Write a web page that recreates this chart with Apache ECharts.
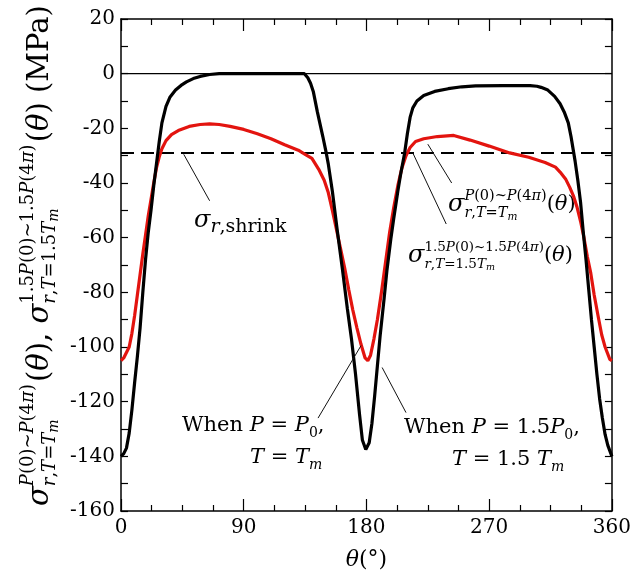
<!DOCTYPE html>
<html>
<head>
<meta charset="utf-8">
<script src="https://cdn.jsdelivr.net/npm/echarts@6/dist/echarts.min.js"></script>
<style>
  html, body { margin: 0; padding: 0; background: #fff; }
  #chart { width: 634px; height: 576px; }
</style>
</head>
<body>
<div id="chart"></div>
<script>
// P = 1.5P0, T = 1.5Tm (black curve)
const thetaHigh = [0, 2, 4, 6, 8, 10, 12, 14, 16, 18, 20, 22, 24, 26, 28, 30, 33, 36, 40, 44, 48, 53, 58, 65, 72, 90, 110, 130, 134.5,
  137, 139, 141, 144, 148, 150.5, 152, 155, 158.5, 162.5, 166, 169, 172, 175, 177, 179.5, 182, 184, 186, 188, 190, 193, 195,
  198, 200, 203, 205, 208, 210, 212, 214, 217, 222, 230, 240, 250, 260, 280, 300, 305, 308, 313, 318, 322, 325, 328, 330,
  333, 335, 337, 339, 341, 343, 345, 347, 349, 351, 353, 355, 357, 360];
const sigmaHigh = [-140, -139, -137, -131.5, -123, -113, -103.5, -93, -80, -68, -58, -50, -41, -33, -25, -18, -12, -8.5, -6, -4.3, -3, -1.8, -1, -0.3, 0, 0, 0, 0, 0,
  -1.5, -3.5, -6.5, -14, -23, -29, -33, -43, -57, -72, -86, -97, -110, -125, -134, -137.5, -135, -128, -118, -107, -96, -82, -72,
  -60, -53, -43, -37, -29, -22, -16, -12.5, -10, -8, -6.5, -5.5, -4.8, -4.5, -4.4, -4.4, -4.6, -5, -6, -8.3, -11, -14, -18, -23,
  -32, -39, -47, -58, -68, -79, -90, -100, -110, -119, -126, -132, -136, -140];

// P = P0, T = Tm (red curve)
const thetaLow = [0, 2, 4, 6, 8, 10, 12, 14, 16, 18, 20, 22, 24, 26, 28, 30, 33, 37, 42, 50, 58, 65, 72, 80, 90, 100, 110, 120, 130,
  135, 140, 145, 149, 152, 155, 158, 161, 164, 167, 170, 173, 176, 179, 181, 183, 185.5, 188, 191, 194, 197, 200, 203, 206,
  209, 212, 216, 222, 232, 244, 256, 270, 285, 299, 311, 318.6, 322, 326, 329, 332, 334.5, 337, 339.5, 342, 344.5, 347, 350,
  352.5, 355, 358.5, 360];
const sigmaLow = [-105, -104, -102, -100, -95, -88.5, -81, -73.5, -66, -59, -52, -46, -40, -34.5, -30.5, -27.5, -24.5, -22.3, -20.8, -19.3, -18.6, -18.4, -18.6, -19.3, -20.4, -22, -23.8, -26, -28,
  -29.5, -31, -35, -39, -43.5, -50, -57, -64, -71, -79, -86.5, -93, -99, -104, -105, -103, -97, -90, -80, -69, -58, -49, -41, -34.5,
  -30, -27, -24.8, -23.8, -23, -22.6, -24.3, -26.5, -29, -30.6, -32.5, -34.2, -36, -38.5, -41.5, -45, -49, -54, -60, -67, -73, -81, -89,
  -95.5, -100, -104.5, -105];

const shrinkStress = -29;   // sigma_r,shrink (dashed)
const zeroStress = 0;

// annotation leader lines, in (theta, sigma)
const leaders = [
  [[46, -29.5], [65, -46.5]],
  [[225, -25.8], [242.5, -40]],
  [[214, -29], [238.5, -55]],
  [[176, -99.5], [144.5, -126]],
  [[191.5, -107.5], [209, -124]]
];

const zip = (xs, ys) => xs.map((x, k) => [x, ys[k]]);

const FONT = '"DejaVu Serif"';
const ctx = document.createElement('canvas').getContext('2d');
function fontOf(r) { return (r.i ? 'italic ' : '') + r.s + 'px ' + FONT; }
function widthOf(r) { ctx.font = fontOf(r); return ctx.measureText(r.t).width; }
const it = (t, s, dy) => ({ t: t, s: s, dy: dy || 0, i: true });
const n = (t, s, dy) => ({ t: t, s: s, dy: dy || 0, i: false });

function placeRuns(runs, x, out) {
  runs.forEach(r => {
    out.push({
      type: 'text', x: x, y: r.dy,
      style: {
        text: r.t, font: fontOf(r), fill: '#000',
        textAlign: 'left', textVerticalAlign: 'middle', align: 'left', verticalAlign: 'middle'
      }
    });
    x += widthOf(r);
  });
  return x;
}
function mathGroup(x, y, items, rotation) {
  const children = [];
  let cx = 0;
  items.forEach(item => {
    if (item.sup || item.sub) {
      const a = placeRuns(item.sup || [], cx, children);
      const b = placeRuns(item.sub || [], cx, children);
      cx = Math.max(a, b) + (item.gap || 0);
    } else {
      cx = placeRuns([item], cx, children);
    }
  });
  return { type: 'group', x: x, y: y, rotation: rotation || 0, silent: true, children: children };
}

// superscript / subscript pieces
function supP(s, dy, k) {
  const pre = k ? [n(k, s, dy)] : [];
  return [].concat(pre, [it('P', s, dy), n('(0)~', s, dy)], k ? [n(k, s, dy)] : [], [it('P', s, dy), n('(4', s, dy), it('π', s, dy), n(')', s, dy)]);
}
function subRT(s, dy, k) {
  return [it('r', s, dy), n(',', s, dy), it('T', s, dy), n('=' + (k || ''), s, dy), it('T', s, dy), it('m', s - 4, dy + 4)];
}

const M = 29, S = 18;
const yTitle = mathGroup(40, 506, [
  it('σ', M), { sup: supP(S, -12), sub: subRT(S, 10), gap: 2 }, n('(', M), it('θ', M), n('), ', M),
  it('σ', M), { sup: supP(S, -12, '1.5'), sub: subRT(S, 10, '1.5'), gap: 2 }, n('(', M), it('θ', M), n(') (MPa)', M)
], Math.PI / 2);

const labShrink = mathGroup(194, 221, [it('σ', 24), { sub: [it('r', 19, 6), n(',shrink', 19, 6)] }]);
const labLow = mathGroup(448, 205, [it('σ', 24), { sup: supP(14.5, -9), sub: subRT(14.5, 8) }, n('(', 21), it('θ', 21), n(')', 21)]);
const labHigh = mathGroup(408, 256, [it('σ', 24), { sup: supP(13.5, -9, '1.5'), sub: subRT(13.5, 8, '1.5') }, n('(', 21), it('θ', 21), n(')', 21)]);
const whenLow1 = mathGroup(182, 426, [n('When ', 21), it('P', 21), n(' = ', 21), it('P', 21), { sub: [n('0', 14, 7)] }, n(',', 21)]);
const whenLow2 = mathGroup(250, 458, [it('T', 21), n(' = ', 21), it('T', 21), { sub: [it('m', 14, 7)] }]);
const whenHigh1 = mathGroup(404, 428, [n('When ', 21), it('P', 21), n(' = 1.5', 21), it('P', 21), { sub: [n('0', 14, 7)] }, n(',', 21)]);
const whenHigh2 = mathGroup(452, 460, [it('T', 21), n(' = 1.5 ', 21), it('T', 21), { sub: [it('m', 14, 7)] }]);

const tickStyle = { color: '#000', width: 1.2 };
const axisCommon = {
  type: 'value',
  axisLine: { show: true, onZero: false, lineStyle: { color: '#000', width: 1.5 } },
  splitLine: { show: false },
  axisLabel: { color: '#000', fontFamily: FONT, fontSize: 20 }
};

const chart = echarts.init(document.getElementById('chart'));
chart.setOption({
  animation: false,
  backgroundColor: '#fff',
  grid: { left: 121, right: 17, top: 19, bottom: 61 },
  xAxis: [
    Object.assign({}, axisCommon, {
      min: 0, max: 360, interval: 90, position: 'bottom',
      axisTick: { inside: true, length: 12, lineStyle: tickStyle },
      minorTick: { show: true, splitNumber: 4, length: 6, lineStyle: tickStyle },
      axisLabel: { color: '#000', fontFamily: FONT, fontSize: 20, margin: 7 },
      name: '{a|θ}{b|(°)}', nameLocation: 'middle', nameGap: 38,
      nameTextStyle: {
        rich: {
          a: { fontFamily: FONT, fontStyle: 'italic', fontSize: 22, color: '#000' },
          b: { fontFamily: FONT, fontSize: 22, color: '#000' }
        }
      }
    }),
    Object.assign({}, axisCommon, {
      min: 0, max: 360, interval: 90, position: 'top',
      axisTick: { inside: true, length: 12, lineStyle: tickStyle },
      minorTick: { show: true, splitNumber: 4, length: 6, lineStyle: tickStyle },
      axisLabel: { show: false }
    })
  ],
  yAxis: [
    Object.assign({}, axisCommon, {
      min: -160, max: 20, interval: 20, position: 'left',
      axisTick: { inside: true, length: 7, lineStyle: tickStyle },
      minorTick: { show: true, splitNumber: 2, length: 7, lineStyle: tickStyle },
      axisLabel: { color: '#000', fontFamily: FONT, fontSize: 20, margin: 6 }
    }),
    Object.assign({}, axisCommon, {
      min: -160, max: 20, interval: 20, position: 'right',
      axisTick: { inside: true, length: 7, lineStyle: tickStyle },
      minorTick: { show: true, splitNumber: 2, length: 7, lineStyle: tickStyle },
      axisLabel: { show: false }
    })
  ],
  series: [
    {
      type: 'line', data: [[0, zeroStress], [360, zeroStress]], showSymbol: false, silent: true,
      lineStyle: { color: '#000', width: 1.3 }
    },
    {
      type: 'line', data: [[0, shrinkStress], [360, shrinkStress]], showSymbol: false, silent: true,
      lineStyle: { color: '#000', width: 2, type: [13, 7] }
    },
    {
      name: 'P0', type: 'line', data: zip(thetaLow, sigmaLow), showSymbol: false,
      lineStyle: { color: '#e3140f', width: 3.2 }
    },
    {
      name: '1.5P0', type: 'line', data: zip(thetaHigh, sigmaHigh), showSymbol: false,
      lineStyle: { color: '#000', width: 3.2 }
    }
  ].concat(leaders.map(seg => ({
    type: 'line', data: seg, showSymbol: false, silent: true,
    lineStyle: { color: '#111', width: 1 }
  }))),
  graphic: [yTitle, labShrink, labLow, labHigh, whenLow1, whenLow2, whenHigh1, whenHigh2]
});
</script>
</body>
</html>
